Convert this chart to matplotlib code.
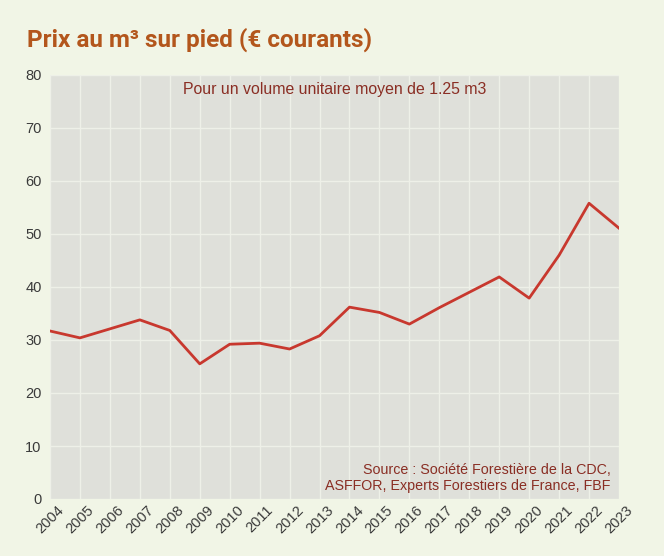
import matplotlib.pyplot as plt

years = list(range(2004, 2024))
prix = [31.7, 30.4, 32.1, 33.8, 31.8, 25.5, 29.2, 29.4, 28.3, 30.8,
        36.2, 35.2, 33.0, 36.1, 39.0, 41.9, 37.9, 46.0, 55.8, 51.1]
yticks = [0, 10, 20, 30, 40, 50, 60, 70, 80]

bg = "#f1f5e6"
fig = plt.figure(figsize=(6.64, 5.56), dpi=100, facecolor=bg)
ax = fig.add_axes([50 / 664, 1 - 499 / 556, 569 / 664, 424 / 556])
ax.set_facecolor("#dfe0da")

ax.plot(years, prix, color="#c8382e", lw=2.0, zorder=3)

ax.set_xlim(2004, 2023)
ax.set_ylim(0, 80)
ax.set_xticks(years)
ax.set_yticks(yticks)
ax.set_xticklabels([str(y) for y in years], rotation=45, ha="center",
                   fontsize=10.5, color="#3a3a3a", family="Liberation Sans")
ax.set_yticklabels([str(v) for v in yticks], fontsize=10.5, color="#3a3a3a",
                   family="Liberation Sans")
ax.tick_params(axis="y", length=0, pad=6)
ax.tick_params(axis="x", length=0, pad=3)
ax.grid(True, color="#eef0e8", lw=1.0)
ax.set_axisbelow(True)
for s in ax.spines.values():
    s.set_visible(False)

ax.text(0.5, 0.983, "Pour un volume unitaire moyen de 1.25 m3",
        transform=ax.transAxes, ha="center", va="top", fontsize=11.4,
        color="#8a2e24", family="Liberation Sans")
ax.text(0.985, 0.015, "Source : Société Forestière de la CDC,\nASFFOR, Experts Forestiers de France, FBF",
        transform=ax.transAxes, ha="right", va="bottom", fontsize=10.3,
        color="#8a2e24", family="Liberation Sans", linespacing=1.15)

fig.text(27 / 664, 1 - 40 / 556, "Prix au m³ sur pied (€ courants)",
         ha="left", va="center", fontsize=17.5, fontweight="bold",
         color="#b3561c", family="Roboto")

fig.savefig("out.png", dpi=100, facecolor=bg)
